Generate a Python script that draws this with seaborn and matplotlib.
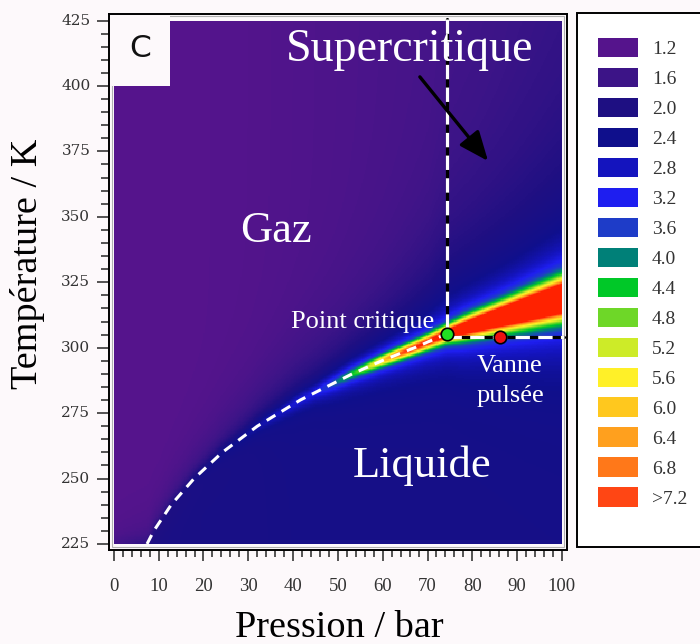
import numpy as np
import pandas as pd
import matplotlib
matplotlib.use("Agg")
import matplotlib.pyplot as plt
from matplotlib.colors import LinearSegmentedColormap
from matplotlib.patches import Patch, Rectangle
import seaborn as sns

# Colour key shown in the legend box
key_values = [1.2, 1.6, 2.0, 2.4, 2.8, 3.2, 3.6, 4.0, 4.4, 4.8, 5.2, 5.6, 6.0, 6.4, 6.8, 7.2]
key_labels = ["1.2", "1.6", "2.0", "2.4", "2.8", "3.2", "3.6", "4.0",
              "4.4", "4.8", "5.2", "5.6", "6.0", "6.4", "6.8", ">7.2"]
key_colors = ["#55148c", "#3c1487", "#1e0f82", "#0f0f8c", "#1414be", "#1e1ef0",
              "#1e3cc8", "#008078", "#00c828", "#6ed728", "#cdeb28", "#fff028",
              "#ffc81e", "#ffa01e", "#ff7819", "#ff4614"]

# Liquid/gas coexistence curve (bar, K)
sat_p = [7.4, 8.9, 12.8, 17.9, 24.2, 32.0, 41.6, 53.2, 59.8, 67.1, 74.3]
sat_t = [225, 230, 240, 250, 260, 270, 280, 290, 295, 300, 305.3]
# ridge of the map continuing into the supercritical region
widom_p = [74.3, 80, 90, 100]
widom_t = [305.3, 308.4, 313.6, 318.8]

crit_p, crit_t = 74.3, 305.3      # "Point critique"
valve_p, valve_t = 86.2, 303.9    # "Vanne pulsée"

# background levels read along the pressure axis
bg_p = [0, 10, 20, 30, 40, 50, 60, 70, 74, 80, 90, 100]
bg_on_curve = [1.3, 1.6, 1.8, 2.0, 2.2, 2.3, 2.4, 2.6, 2.7, 2.6, 2.5, 2.5]
bg_gas_far = [1.2, 1.2, 1.22, 1.25, 1.3, 1.35, 1.4, 1.45, 1.5, 1.52, 1.58, 1.62]
bg_gas_len = [8, 8, 10, 12, 14, 16, 20, 25, 28, 32, 38, 45]
bg_liq_far = [2.1, 2.1, 2.15, 2.15, 2.2, 2.2, 2.2, 2.2, 2.2, 2.2, 2.2, 2.2]
bg_liq_len = [4, 4, 5, 6, 7, 8, 9, 10, 10, 12, 14, 15]
# peak along the curve / ridge (height above background and half width in K)
ridge_p = [0, 30, 45, 55, 60, 65, 70, 74.3, 78, 85, 92, 100]
ridge_amp = [0.2, 0.5, 0.9, 2.4, 3.6, 4.8, 5.2, 5.8, 8.0, 12.0, 16.0, 19.0]
ridge_w = [3, 3, 3, 2.8, 2.5, 2.3, 2.4, 2.6, 2.8, 2.9, 3.1, 3.4]

# Grid
n_p, n_t = 400, 400
T_TOP, T_BOT = 425.0, 225.0
P_STEP = 100.0 / n_p
T_STEP = (T_TOP - T_BOT) / n_t
p_c = (np.arange(n_p) + 0.5) * P_STEP
t_c = T_TOP - (np.arange(n_t) + 0.5) * T_STEP
PP, TT = np.meshgrid(p_c, t_c)

line_p = sat_p + widom_p[1:]
line_t = sat_t + widom_t[1:]
d = TT - np.interp(PP, line_p, line_t)
v0 = np.interp(PP, bg_p, bg_on_curve)
g_far = np.interp(PP, bg_p, bg_gas_far)
l_far = np.interp(PP, bg_p, bg_liq_far)
gas = g_far + (v0 - g_far) * np.exp(-np.clip(d, 0, None) / np.interp(PP, bg_p, bg_gas_len))
liq = l_far + (v0 - l_far) * np.exp(np.clip(d, None, 0) / np.interp(PP, bg_p, bg_liq_len))
base = np.where(d >= 0, gas, liq)
amp = np.interp(PP, ridge_p, ridge_amp)
wid = np.interp(PP, ridge_p, ridge_w)
values = base + amp / (1 + (d / wid) ** 2)
field = pd.DataFrame(values, index=np.round(t_c, 2), columns=np.round(p_c, 2))


def px(p):
    return np.asarray(p, float) / P_STEP


def ty(t):
    return (T_TOP - np.asarray(t, float)) / T_STEP


# Colormap for the map (same key colours, deeper red on top)
nodes = key_values + [7.6]
cols = key_colors + ["#ff2200"]
vmin, vmax = nodes[0], nodes[-1]
cmap = LinearSegmentedColormap.from_list(
    "key", [((v - vmin) / (vmax - vmin), c) for v, c in zip(nodes, cols)])

bg = "#fdf9fb"
sns.set_style("ticks")
plt.rcParams['font.family'] = ['Liberation Serif', 'DejaVu Serif']

fig = plt.figure(figsize=(7, 6.44), dpi=100, facecolor=bg)
ax = fig.add_axes([108.5 / 700, 1 - 550 / 644, (567.3 - 108.5) / 700, (550 - 14) / 644])
ax.set_facecolor(bg)

sns.heatmap(field, ax=ax, cmap=cmap, vmin=vmin, vmax=vmax, cbar=False,
            xticklabels=False, yticklabels=False, rasterized=True)

ax.set_xlim(px(-1.2), px(101.2))
ax.set_ylim(ty(222.7), ty(427.5))
for s in ax.spines.values():
    s.set_visible(True)
    s.set_linewidth(1.4)
    s.set_color("black")
    s.set_zorder(6)

# thin inner frame and corner box with the panel letter
ax.add_patch(Rectangle((px(-0.45), ty(426.6)), px(100.9), ty(223.7) - ty(426.6),
                       fill=False, edgecolor="#b0b0b0", lw=0.8, zorder=2))
ax.add_patch(Rectangle((px(-1.2), ty(427.5)), px(13.7), ty(400) - ty(427.5),
                       facecolor=bg, edgecolor="none", zorder=2.2))
ax.text(px(5.8), ty(414.5), "C", family="DejaVu Sans", fontsize=22.5,
        ha="center", va="center", color="#111111", zorder=7)

# coexistence curve
ax.plot(px(sat_p), ty(sat_t), color="white", lw=2.2, ls=(0, (3.3, 2.4)),
        dash_capstyle="butt", zorder=4)
# vertical line (critical pressure) and horizontal line (valve temperature)
for xs, ys in [([crit_p, crit_p], [425.5, crit_t]),
               ([crit_p, 100.4], [valve_t, valve_t])]:
    ax.plot(px(xs), ty(ys), color="black", lw=2.3, zorder=4)
    ax.plot(px(xs), ty(ys), color="white", lw=2.3, ls=(0, (4.5, 2.6)),
            dash_capstyle="butt", zorder=4.5)

ax.plot(px([valve_p]), ty([valve_t]), "o", ms=9, mfc="#ee1111", mec="black", mew=1.2, zorder=6)
ax.plot(px([crit_p]), ty([crit_t]), "o", ms=9, mfc="#22e022", mec="black", mew=1.2, zorder=6)

ax.annotate("", xy=(px(83.9), ty(370.5)), xytext=(px(67.9), ty(404.3)),
            arrowprops=dict(arrowstyle="-|>,head_length=0.6,head_width=0.25",
                            lw=2.4, color="black", mutation_scale=30), zorder=6)

txt = dict(color="white", ha="center", va="center", zorder=6)
ax.text(px(66.1), ty(413.8), "Supercritique", fontsize=33, **txt)
ax.text(px(36.2), ty(344.5), "Gaz", fontsize=32, **txt)
ax.text(px(68.75), ty(254.8), "Liquide", fontsize=32, **txt)
ax.text(px(55.6), ty(309.8), "Point critique", fontsize=19, **txt)
ax.text(px(81.0), ty(290.9), "Vanne", fontsize=19, color="white", ha="left", va="baseline", zorder=6)
ax.text(px(81.0), ty(279.1), "pulsée", fontsize=19, color="white", ha="left", va="baseline", zorder=6)

# ticks
x_major = np.arange(0, 101, 10)
y_major = np.arange(225, 426, 25)
ax.set_xticks(px(x_major))
ax.set_xticks(px(np.arange(0, 101, 2)), minor=True)
ax.set_xticklabels([str(v) for v in x_major], family="Liberation Serif", fontsize=13.5, color="#333333")
ax.set_yticks(ty(y_major))
ax.set_yticks(ty(np.arange(225, 426, 5)), minor=True)
ax.set_yticklabels([str(v) for v in y_major], family="DejaVu Serif", fontsize=11,
                   color="#333333", rotation=0, va="center")
ax.tick_params(axis="x", which="major", length=8.2, width=1.1, pad=12, direction="out")
ax.tick_params(axis="x", which="minor", length=5.3, width=1.1, direction="out")
ax.tick_params(axis="y", which="major", length=8.4, width=1.1, pad=4.7, direction="out")
ax.tick_params(axis="y", which="minor", length=6.0, width=1.1, direction="out")
ax.tick_params(top=False, right=False, which="both")

ax.set_xlabel("Pression / bar", fontsize=27.5, color="black")
ax.set_ylabel("Température / K", fontsize=27.5, color="black")
ax.xaxis.set_label_coords(0.5024, -0.1455)
ax.xaxis.label.set_va("center")
ax.yaxis.set_label_coords(-0.1776, 0.5336)
ax.yaxis.label.set_va("center")

# legend box (cut by the right edge of the figure)
fig.add_artist(Rectangle((577.3 / 700, 1 - 547 / 644), 140 / 700, (547 - 12.7) / 644,
                         transform=fig.transFigure, facecolor="white", edgecolor="black",
                         lw=1.4, zorder=1))
handles = [Patch(facecolor=c, edgecolor="none") for c in key_colors]
fig.legend(handles, key_labels, loc="upper left", bbox_to_anchor=(598 / 700, 1 - 38 / 644),
           frameon=False, borderpad=0, borderaxespad=0, handlelength=2.06,
           handleheight=1.15, handletextpad=0.72, labelspacing=0.5,
           prop={"family": "Liberation Serif", "size": 14}, labelcolor="#333333")

plt.savefig("out.png", dpi=100, facecolor=bg)
